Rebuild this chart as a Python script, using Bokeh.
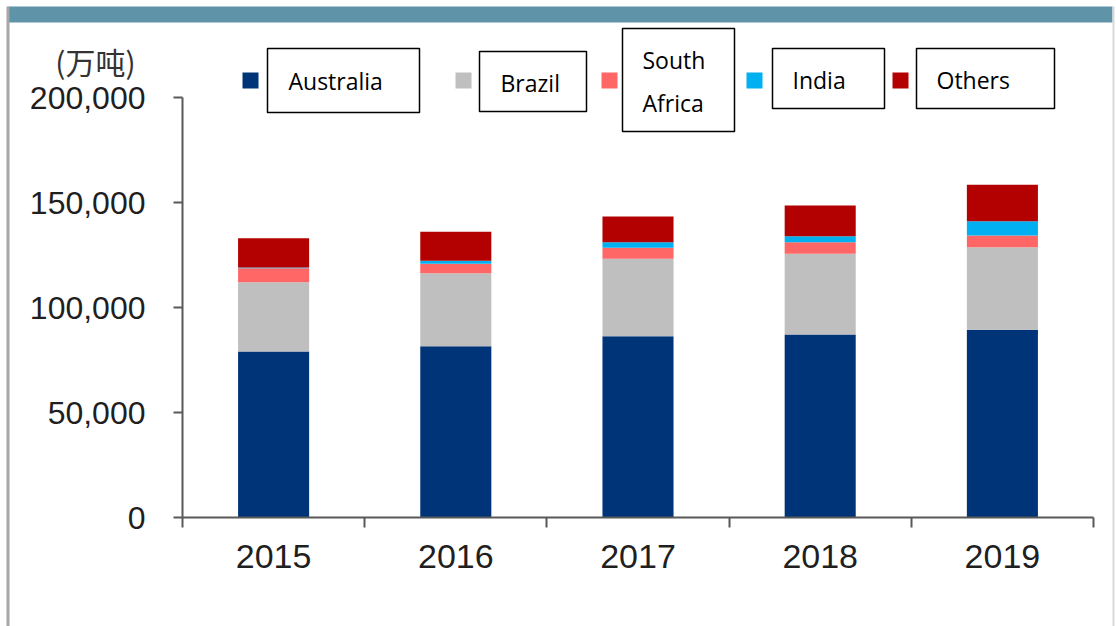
from bokeh.plotting import figure
from bokeh.models import (Range1d, FixedTicker, NumeralTickFormatter, LinearAxis,
                          ColumnDataSource)
from bokeh.core.properties import value
from bokeh.embed import file_html
from bokeh.resources import INLINE

# ---------------- data ----------------
years = [2015, 2016, 2017, 2018, 2019]
australia = [79000, 81600, 86300, 87100, 89400]
brazil = [33000, 34700, 36900, 38500, 39300]
south_africa = [6700, 4500, 5200, 5500, 5600]
india = [300, 1500, 2700, 2800, 6800]
others = [14000, 13800, 12200, 14700, 17300]
series = ["Australia", "Brazil", "South Africa", "India", "Others"]
legend_texts = ["Australia", "Brazil", "South\nAfrica", "India", "Others"]
colors = ["#003478", "#bfbfbf", "#ff6666", "#00b0f0", "#b30000"]
y_ticks = [0, 50000, 100000, 150000, 200000]
unit_label = "(万吨)"

# ---------------- layout constants (pixels) ----------------
W, H = 1116, 626
AX_L, AX_R = 182, 1093          # x axis extent (category boundaries)
Y0_PX, YMAX_PX = 517, 97        # pixel of y=0 and y=200,000
AX = "#595959"
TXT = "#1f1f1f"
N = len(years)
PX_PER_YEAR = (AX_R - AX_L) / N
Y_PER_PX = y_ticks[-1] / (Y0_PX - YMAX_PX)


def px2x(px):
    return years[0] - 0.5 + (px - AX_L) / PX_PER_YEAR


def py2y(py):
    return (Y0_PX - py) * Y_PER_PX


source = ColumnDataSource(dict(year=years, **{
    "Australia": australia, "Brazil": brazil, "South Africa": south_africa,
    "India": india, "Others": others}))

p = figure(width=W, height=H,
           x_range=Range1d(px2x(0), px2x(W)), y_range=Range1d(py2y(H), py2y(0)),
           output_backend="svg", toolbar_location=None, title=None,
           x_axis_location=None, y_axis_location=None,
           min_border=0, min_border_left=0, min_border_right=0,
           min_border_top=0, min_border_bottom=0)
p.outline_line_color = None
p.background_fill_color = "white"
p.border_fill_color = "white"
p.grid.visible = False

# frame decorations (top band, side rules)
p.quad(left=[px2x(8)], right=[px2x(1112)], top=[py2y(6)], bottom=[py2y(22)],
       fill_color="#5f93a8", line_color=None)
p.quad(left=[px2x(6), px2x(1112)], right=[px2x(9), px2x(1114)],
       top=[py2y(6), py2y(6)], bottom=[py2y(H), py2y(H)],
       fill_color=["#a6a6a6", "#d9d9d9"], line_color=None)

p.vbar_stack(series, x="year", width=0.39, color=colors, line_color=None,
             source=source)

# y axis (drawn at the left category boundary)
ya = LinearAxis(fixed_location=years[0] - 0.5,
                ticker=FixedTicker(ticks=y_ticks), bounds=(0, y_ticks[-1]),
                formatter=NumeralTickFormatter(format="0,0"),
                major_tick_in=0, major_tick_out=9, minor_tick_in=0, minor_tick_out=0,
                axis_line_color=AX, axis_line_width=2,
                major_tick_line_color=AX, major_tick_line_width=2,
                major_label_standoff=28,
                major_label_text_font="Liberation Sans",
                major_label_text_font_size="32px",
                major_label_text_color=TXT)
p.add_layout(ya, "left")

# x axis: labels at year centres, ticks at category boundaries
bounds_x = [y - 0.5 for y in years] + [years[-1] + 0.5]
xa = LinearAxis(fixed_location=0,
                ticker=FixedTicker(ticks=years, minor_ticks=bounds_x),
                bounds=(bounds_x[0], bounds_x[-1]),
                major_tick_in=0, major_tick_out=0,
                minor_tick_in=0, minor_tick_out=10,
                axis_line_color=AX, axis_line_width=2,
                major_tick_line_color=None,
                minor_tick_line_color=AX, minor_tick_line_width=2,
                major_label_standoff=17,
                major_label_text_font="Liberation Sans",
                major_label_text_font_size="34px",
                major_label_text_color=TXT)
p.add_layout(xa, "below")

# unit label
p.text(x=[px2x(95)], y=[py2y(60)], text=[unit_label],
       text_font=value("Noto Sans CJK SC"), text_font_size="30px",
       text_color="#333333", text_align="center", text_baseline="middle")

# custom legend (pixel layout)
sq_px = [250, 463, 609, 754, 900]
sq_py = 80
box_l = [267, 479, 622, 772, 916]
box_r = [419, 586, 734, 884, 1054]
box_t = [48, 51, 28, 48, 48]
box_b = [112, 111, 131, 108, 108]
txt_px = [288, 500, 642, 792, 936]
txt_py = [80, 82, 81, 79, 79]

p.rect(x=[px2x(v) for v in sq_px], y=[py2y(sq_py)] * N,
       width=16 / PX_PER_YEAR, height=16 * Y_PER_PX, fill_color=colors, line_color=None)
p.quad(left=[px2x(v) for v in box_l], right=[px2x(v) for v in box_r],
       top=[py2y(v) for v in box_t], bottom=[py2y(v) for v in box_b],
       fill_color="white", line_color="black", line_width=1.5)
for tx, ty, t in zip(txt_px, txt_py, legend_texts):
    p.text(x=[px2x(tx)], y=[py2y(ty)], text=[t],
           text_font=value("Open Sans"), text_font_size="23px", text_color="black",
           text_align="left", text_baseline="middle", text_line_height=1.34)

open("out.html", "w").write(file_html(p, INLINE))
